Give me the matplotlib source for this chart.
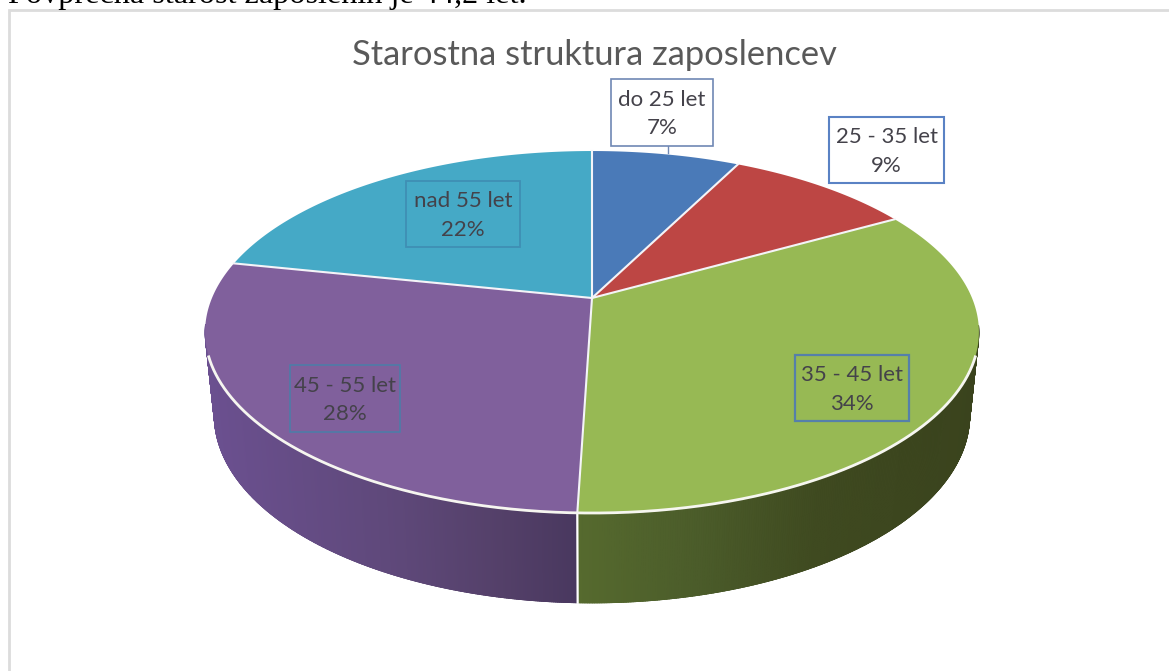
import numpy as np
import matplotlib
matplotlib.use('Agg')
import matplotlib.pyplot as plt
from matplotlib.colors import to_rgb
from matplotlib.patches import Rectangle

# chart data
categories = ['do 25 let', '25 - 35 let', '35 - 45 let', '45 - 55 let', 'nad 55 let']
shares = [7.4, 9.4, 33.7, 27.8, 21.7]

title = 'Starostna struktura zaposlencev'
text_above = 'Povprečna starost zaposlenih je 44,2 let.'

# colours
top_colors = ['#4a7ab8', '#bd4644', '#97b954', '#80609c', '#45a9c6']
wall_x = {2: [578, 700, 820, 980], 3: [205, 400, 500, 578]}
wall_colors = {2: ['#566a2e', '#4b5c2a', '#3f4a20', '#3a431d'],
               3: ['#6b5090', '#5e4879', '#544069', '#49385f']}

# label boxes: left, top, right, bottom, edge colour, line width
boxes = [(611, 79, 713, 146, '#7088b4', 1.2),
         (829, 117, 944, 183, '#5a82c4', 1.5),
         (795, 355, 909, 421, '#5580aa', 1.6),
         (290, 365, 400, 432, '#4a7fa8', 1.1),
         (406, 181, 520, 247, '#3f8fb4', 1.3)]

# perspective of the disc, in pixels
PERSP = 0.188
top_disc = dict(x0=592, y0=298, a=380, b=174.6)
low_disc = dict(x0=592, y0=380, a=371, b=181)


def project(theta, disc):
    d = 1 + PERSP * np.cos(theta)
    return (disc['x0'] + disc['a'] * np.sin(theta) / d,
            disc['y0'] - disc['b'] * np.cos(theta) / d)


fig = plt.figure(figsize=(11.69, 6.71), dpi=100)
ax = fig.add_axes([0, 0, 1, 1])
ax.set_xlim(0, 1169)
ax.set_ylim(671, 0)
ax.axis('off')

# line of document text cut off by the screenshot, and the grey frame
ax.text(8, 2.5, text_above, family='Liberation Serif', fontsize=23.2, color='black', va='baseline')
ax.plot([8.5, 8.5, 1169], [671, 9.5, 9.5], color='#dcdcdc', lw=2, solid_joinstyle='miter')

edges = np.cumsum([0] + shares) / 100 * 2 * np.pi

# side wall, only the part facing us
for i in wall_x:
    th = np.linspace(edges[i], edges[i + 1], 400)
    step = th[1] - th[0]
    th = th[:-1][np.cos(th[:-1]) < -0.15]
    th = th[np.argsort(-np.cos(th))]
    stops = np.array([to_rgb(c) for c in wall_colors[i]])
    for t in th:
        x1, y1 = project(np.array([t, t + step]), top_disc)
        x2, y2 = project(np.array([t + step, t]), low_disc)
        col = [np.interp(x1[0], wall_x[i], stops[:, k]) for k in range(3)]
        ax.fill(np.r_[x1, x2], np.r_[y1, y2], color=col, lw=0.6, zorder=2)
        # wedge of the lower disc, closes the outline of the wall
        ax.fill(np.r_[low_disc['x0'], x2], np.r_[low_disc['y0'], y2], color=col, lw=0.6, zorder=1)

# white seam on the wall
x1, y1 = project(edges[3], top_disc)
x2, y2 = project(edges[3], low_disc)
ax.plot([x1, x2], [y1, y2], color='white', lw=1.6, zorder=3)

# top face
for i in range(len(shares)):
    th = np.linspace(edges[i], edges[i + 1], 200)
    x, y = project(th, top_disc)
    ax.fill(np.r_[top_disc['x0'], x], np.r_[top_disc['y0'], y], color=top_colors[i], lw=0, zorder=4)

# white spokes
for e in edges[:-1]:
    x, y = project(e, top_disc)
    ax.plot([top_disc['x0'], x], [top_disc['y0'], y], color='#f4f4f8', lw=1.5, zorder=5)

# white rim where top meets the wall
th = np.linspace(0, 2 * np.pi, 1000)
x, y = project(th, top_disc)
ax.plot(np.where(y > 356, x, np.nan), y, color='#f6f6f0', lw=2, zorder=5)

ax.text(594, 55, title, family='Lato', fontsize=24.8, color='#595959', ha='center', va='center')

# leader of the first label
ax.plot([668, 668], [146, 153], color='#7088b4', lw=1, zorder=6)

for name, share, (l, t, r, b, ec, lw) in zip(categories, shares, boxes):
    ax.add_patch(Rectangle((l, t), r - l, b - t, fc='white' if t < 190 and l > 600 else 'none',
                           ec=ec, lw=lw, zorder=6))
    ax.text((l + r) / 2, (t + b) / 2 + 1.5, '%s\n%d%%' % (name, round(share)), family='Lato', fontsize=16,
            color='#44424a', ha='center', va='center', linespacing=1.53, zorder=7)

fig.savefig('out.png', dpi=100)
